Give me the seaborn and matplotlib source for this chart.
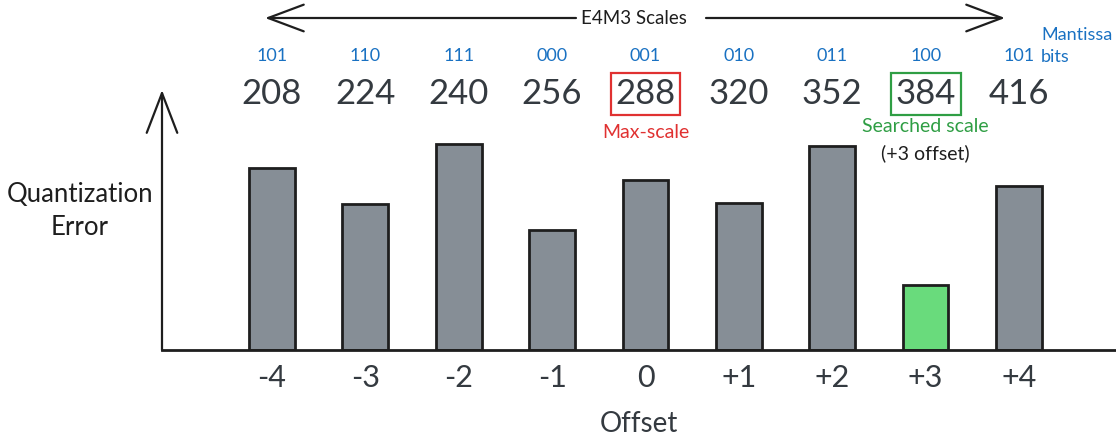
import matplotlib
matplotlib.use('Agg')
import matplotlib.pyplot as plt
import seaborn as sns
import pandas as pd
from matplotlib.transforms import blended_transform_factory

# ---- data ----
offsets = ['-4', '-3', '-2', '-1', '0', '+1', '+2', '+3', '+4']
errors = [182, 146, 206, 120, 170, 147, 204, 65, 164]
scales = ['208', '224', '240', '256', '288', '320', '352', '384', '416']
mantissa = ['101', '110', '111', '000', '001', '010', '011', '100', '101']
max_scale_offset = '0'
searched_offset = '+3'

DARK = '#343a40'
BLUE = '#1971c2'
RED = '#e03131'
GREEN = '#2f9e44'

sns.set_theme(style='white')
plt.rcParams['font.family'] = ['Lato', 'DejaVu Sans']

W, H = 1116, 436
fig = plt.figure(figsize=(W / 100, H / 100), dpi=100)
ax = fig.add_axes([162 / W, 86 / H, 954 / W, 260 / H])

df = pd.DataFrame({'offset': offsets, 'error': errors})
palette = {o: ('#69db7c' if o == searched_offset else '#868e96') for o in offsets}
sns.barplot(data=df, x='offset', y='error', hue='offset', order=offsets,
            hue_order=offsets, palette=palette, legend=False, width=0.49,
            saturation=1, edgecolor='#1e1e1e', linewidth=2, ax=ax)

ax.set_xlim(-1.178, 9.039)
ax.set_ylim(0, 260)
ax.set_yticks([])
ax.set_ylabel('')
ax.tick_params(axis='x', length=0, pad=10, labelsize=22, labelcolor=DARK)
ax.set_xlabel('Offset', fontsize=20, color=DARK, labelpad=14)
for s in ['top', 'right', 'left']:
    ax.spines[s].set_visible(False)
ax.spines['bottom'].set_color('#1e1e1e')
ax.spines['bottom'].set_linewidth(2)

# y axis arrow
ax.annotate('', xy=(0, 1.0), xytext=(0, 0), xycoords='axes fraction',
            textcoords='axes fraction',
            arrowprops=dict(arrowstyle='->,head_length=1.3,head_width=0.5',
                            lw=1.6, color='#1e1e1e', mutation_scale=22,
                            shrinkA=0, shrinkB=0))

fig.text(80 / W, 1 - 211 / H, 'Quantization\nError', fontsize=18.5, color='#1e1e1e',
         ha='center', va='center', linespacing=1.4)

# top scale arrow
fig.text(634 / W, 1 - 18 / H, 'E4M3 Scales', fontsize=13.5, color='#1e1e1e',
         ha='center', va='center')
arrow_kw = dict(arrowstyle='->,head_length=1.6,head_width=0.6', lw=1.6,
                color='#1e1e1e', mutation_scale=16, shrinkA=0, shrinkB=0)
ax.annotate('', xy=(265, H - 18), xytext=(576, H - 18), xycoords='figure pixels',
            textcoords='figure pixels', arrowprops=arrow_kw)
ax.annotate('', xy=(1005, H - 18), xytext=(706, H - 18), xycoords='figure pixels',
            textcoords='figure pixels', arrowprops=arrow_kw)

tr = blended_transform_factory(ax.transData, fig.transFigure)
for i, (sc, mb, off) in enumerate(zip(scales, mantissa, offsets)):
    bbox = None
    if off == max_scale_offset:
        bbox = dict(boxstyle='square,pad=0.14', fc='none', ec=RED, lw=1.6)
    elif off == searched_offset:
        bbox = dict(boxstyle='square,pad=0.14', fc='none', ec=GREEN, lw=1.6)
    ax.text(i, 1 - 94 / H, sc, transform=tr, fontsize=25, color=DARK,
            ha='center', va='center', bbox=bbox)
    ax.text(i, 1 - 56 / H, mb, transform=tr, fontsize=13, color=BLUE,
            ha='center', va='center')

i_max = offsets.index(max_scale_offset)
i_s = offsets.index(searched_offset)
ax.text(i_max, 1 - 132 / H, 'Max-scale', transform=tr, fontsize=14, color=RED,
        ha='center', va='center')
ax.text(i_s, 1 - 127 / H, 'Searched scale', transform=tr, fontsize=14, color=GREEN,
        ha='center', va='center')
ax.text(i_s, 1 - 153 / H, '(+3 offset)', transform=tr, fontsize=14, color='#1e1e1e',
        ha='center', va='center')

fig.text(1041 / W, 1 - 35 / H, 'Mantissa', fontsize=13, color=BLUE,
         ha='left', va='center')
fig.text(1041 / W, 1 - 57 / H, 'bits', fontsize=13, color=BLUE,
         ha='left', va='center')

fig.savefig('out.png', dpi=100, facecolor='white')
